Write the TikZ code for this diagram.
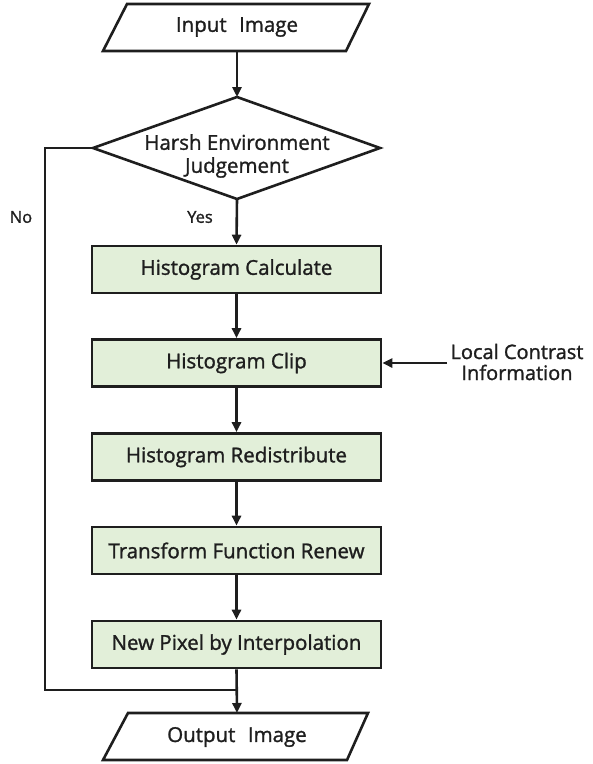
\documentclass[tikz,border=0pt]{standalone}
\usepackage{fontspec}
\setmainfont{Open Sans}[FakeBold=1.3]
\usetikzlibrary{arrows.meta,shapes.geometric}
\definecolor{boxgreen}{HTML}{E2EFD9}
\definecolor{ink}{HTML}{1E1E1E}
\tikzset{
  px/.style={x=1pt,y=-1pt},
  line/.style={draw=ink,line width=2.6pt},
  arr/.style={line,-{Triangle[length=10pt,width=9pt]}},
  txt/.style={font=\fontsize{20.5}{23}\selectfont,text=ink},
  stepbox/.style={txt,draw=ink,line width=2.6pt,fill=boxgreen,minimum width=289pt,minimum height=47pt,inner sep=0pt},
  lbl/.style={font=\fontsize{16.5}{19}\selectfont,text=ink},
}
\begin{document}
\begin{tikzpicture}[px]
\useasboundingbox (0,0) rectangle (593,764);
% input parallelogram
\coordinate (i1) at (127,4); \coordinate (i2) at (369,4);
\coordinate (i3) at (346,51); \coordinate (i4) at (103,51);
\draw[line,line join=miter] (i1)--(i2)--(i3)--(i4)--cycle;
\node[txt] (in) at (237,27) {Input\hspace{0.35em} Image};
\coordinate (inb) at (237,51);
% diamond
\coordinate (dt) at (237,97); \coordinate (dr) at (380,148);
\coordinate (db) at (237,199); \coordinate (dl) at (93,148);
\draw[line,line join=miter] (dt)--(dr)--(db)--(dl)--cycle;
\node[txt,align=center] (dj) at (237,156) {Harsh Environment\\Judgement};
% boxes
\node[stepbox] (b1) at (236.5,269.5) {Histogram Calculate};
\node[stepbox] (b2) at (236.5,363) {Histogram Clip};
\node[stepbox] (b3) at (236.5,457) {Histogram Redistribute};
\node[stepbox] (b4) at (236.5,550.5) {Transform Function Renew};
\node[stepbox] (b5) at (236.5,644.5) {New Pixel by Interpolation};
% output parallelogram
\coordinate (o1) at (128,713); \coordinate (o2) at (368,713);
\coordinate (o3) at (347,760); \coordinate (o4) at (103,760);
\draw[line,line join=miter] (o1)--(o2)--(o3)--(o4)--cycle;
\node[txt] (out) at (237,737) {Output\hspace{0.35em} Image};
\coordinate (ot) at (237,713);
% right label
\node[txt,align=center,font=\fontsize{20}{21}\selectfont] (lc) at (517,362) {Local Contrast\\Information};
\coordinate (lca) at (447,363);
% labels
\node[lbl] (no) at (21,217) {No};
\node[lbl] (yes) at (200,217) {Yes};
% connectors
\draw[arr] (inb) -- (dt);
\draw[arr] (db) -- (b1.north);
\draw[arr] (b1) -- (b2);
\draw[arr] (b2) -- (b3);
\draw[arr] (b3) -- (b4);
\draw[arr] (b4) -- (b5);
\draw[arr] (b5.south) -- (ot);
\draw[arr] (lca) -- (b2.east);
\coordinate (j) at (237,690);
\draw[line] (dl) -- (45,148) -- (45,690) -- (j);
\end{tikzpicture}
\end{document}
